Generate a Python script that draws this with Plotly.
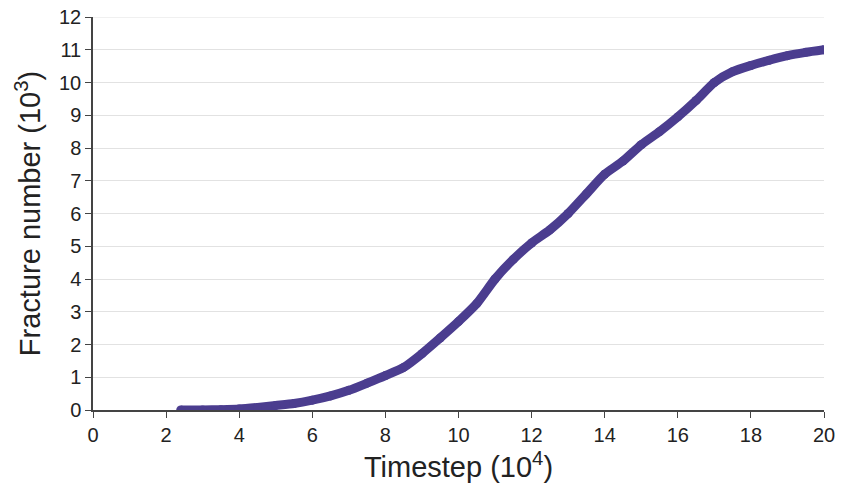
import plotly.graph_objects as go

timestep = [2.4, 3, 3.5, 4, 4.5, 5, 5.5, 6, 6.5, 7, 7.5, 8, 8.5, 9, 9.5, 10, 10.5, 11, 11.5, 12,
            12.5, 13, 13.5, 14, 14.5, 15, 15.5, 16, 16.5, 17, 17.5, 18, 18.5, 19, 19.5, 20]
fracture = [0, 0, 0.01, 0.03, 0.08, 0.14, 0.2, 0.3, 0.43, 0.6, 0.82, 1.05, 1.3, 1.72, 2.2, 2.7,
            3.25, 4.0, 4.6, 5.1, 5.5, 6.0, 6.6, 7.2, 7.6, 8.1, 8.5, 8.95, 9.45, 10.0, 10.33, 10.52,
            10.68, 10.82, 10.92, 11.0]

x_ticks = list(range(0, 21, 2))
y_ticks = list(range(0, 13, 1))

color = "#4b3d8f"
font = "Arial"

fig = go.Figure()
fig.add_trace(go.Scatter(
    x=timestep, y=fracture, mode="lines+markers",
    line=dict(color=color, width=9, shape="spline", smoothing=0.6),
    marker=dict(color=color, size=9),
    showlegend=False,
))

# top gridline at the range edge
fig.add_shape(type="line", xref="paper", x0=0, x1=1, yref="y", y0=y_ticks[-1], y1=y_ticks[-1],
              line=dict(color="#e2e2e2", width=1), layer="below")

fig.update_layout(
    width=842, height=499,
    margin=dict(l=93, r=18, t=17, b=89, autoexpand=False),
    paper_bgcolor="white", plot_bgcolor="white",
    font=dict(family=font, color="#222"),
    xaxis=dict(
        range=[0, 20], tickvals=x_ticks, ticktext=[str(v) for v in x_ticks],
        showgrid=False, zeroline=False,
        showline=True, linecolor="#444", linewidth=1.5,
        ticks="outside", ticklen=6, tickcolor="#444",
        tickfont=dict(size=20, family=font, color="#222"),
        ticklabeloverflow="allow",
        title=dict(text="Timestep (10<sup>4</sup>)", font=dict(size=29, family=font, color="#222"),
                   standoff=12),
        automargin=False,
    ),
    yaxis=dict(
        range=[0, 12], tickvals=y_ticks, ticktext=[str(v) for v in y_ticks],
        showgrid=True, gridcolor="#e2e2e2", gridwidth=1, zeroline=False,
        showline=True, linecolor="#444", linewidth=1.5,
        ticks="outside", ticklen=6, tickcolor="#444",
        tickfont=dict(size=20, family=font, color="#222"),
        ticklabeloverflow="allow",
        title=dict(text="Fracture number (10<sup>3</sup>)", font=dict(size=29, family=font, color="#222"),
                   standoff=10),
        automargin=False,
    ),
)

fig.write_html("out.html", config={"displayModeBar": False},
               post_script="document.body.style.margin='0';document.body.style.overflow='hidden';")
